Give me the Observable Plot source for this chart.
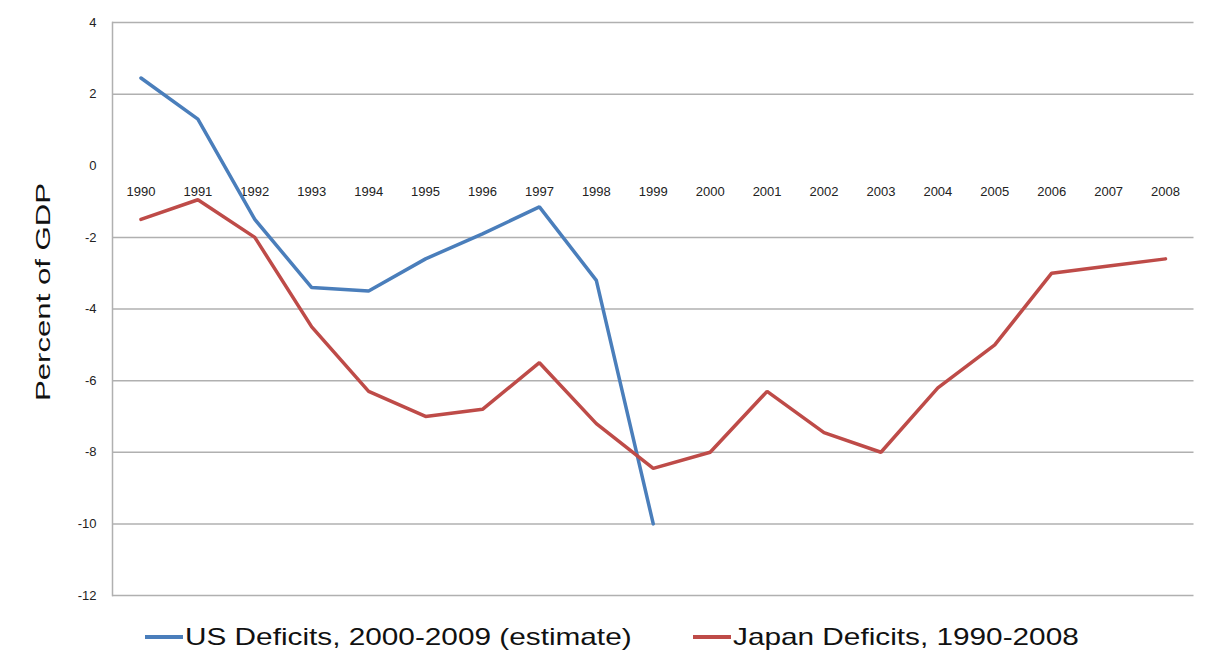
<!DOCTYPE html>
<html>
<head>
<meta charset="utf-8">
<script src="https://cdn.jsdelivr.net/npm/d3@7"></script>
<script src="https://cdn.jsdelivr.net/npm/@observablehq/plot@0.6"></script>
<style>
  html, body { margin: 0; padding: 0; background: #fff; }
  #wrap { position: relative; width: 1208px; height: 662px; font-family: "Liberation Sans", Arial, sans-serif; }
  .leg { position: absolute; top: 612px; height: 50px; display: flex; align-items: center; }
  .sw { width: 38px; height: 4px; margin-right: 2px; }
  .lt { font-size: 24px; color: #111; transform: scaleX(1.24); transform-origin: left center; white-space: nowrap; }
</style>
</head>
<body>
<div id="wrap"></div>
<script>
const years = ["1990","1991","1992","1993","1994","1995","1996","1997","1998","1999",
               "2000","2001","2002","2003","2004","2005","2006","2007","2008"];
// US deficits 2000-2009, drawn on the first ten category slots
const usValues = [2.45, 1.3, -1.5, -3.4, -3.5, -2.6, -1.9, -1.15, -3.2, -10.0];
// Japan deficits 1990-2008
const japanValues = [-1.5, -0.95, -2.0, -4.5, -6.3, -7.0, -6.8, -5.5, -7.2, -8.45,
                     -8.0, -6.3, -7.45, -8.0, -6.2, -5.0, -3.0, -2.8, -2.6];
const yTicks = [4, 2, 0, -2, -4, -6, -8, -10, -12];
const gridValues = [4, 2, -2, -4, -6, -8, -10, -12];
const seriesNames = ["US Deficits, 2000-2009 (estimate)", "Japan Deficits, 1990-2008"];
const colors = ["#4a7ebb", "#be4b48"];

const us = usValues.map((v, i) => ({year: years[i], value: v}));
const japan = japanValues.map((v, i) => ({year: years[i], value: v}));

const chart = Plot.plot({
  width: 1208,
  height: 612,
  marginLeft: 112,
  marginRight: 14.5,
  marginTop: 22,
  marginBottom: 17,
  style: {fontFamily: "'Liberation Sans', Arial, sans-serif", color: "#222", background: "#fff"},
  x: {type: "point", domain: years, padding: 0.5, round: false, axis: null},
  y: {domain: [-12, 4], axis: null},
  marks: [
    Plot.ruleY(gridValues, {stroke: "#b0b0b0", strokeWidth: 1.5}),
    Plot.frame({anchor: "left", stroke: "#b0b0b0", strokeWidth: 1.5}),
    Plot.axisY({ticks: yTicks, tickSize: 0, tickPadding: 16, tickFormat: d => String(d), fontSize: 13, label: null}),
    Plot.text(years, {x: d => d, y: () => 0, dy: 26, text: d => d, fontSize: 13, fill: "#222", textAnchor: "middle"}),
    Plot.line(us, {x: "year", y: "value", stroke: colors[0], strokeWidth: 3.5, strokeLinejoin: "miter"}),
    Plot.line(japan, {x: "year", y: "value", stroke: colors[1], strokeWidth: 3.5, strokeLinejoin: "miter"})
  ]
});

const wrap = document.getElementById("wrap");
wrap.appendChild(chart);

d3.select(chart).append("text")
  .attr("transform", "translate(50,292) rotate(-90)")
  .attr("text-anchor", "middle")
  .attr("font-size", 21)
  .attr("fill", "#111")
  .attr("textLength", 218)
  .attr("lengthAdjust", "spacingAndGlyphs")
  .text("Percent of GDP");

const legLeft = [145, 693];
seriesNames.forEach((name, i) => {
  const item = document.createElement("div");
  item.className = "leg";
  item.style.left = legLeft[i] + "px";
  const sw = document.createElement("div");
  sw.className = "sw";
  sw.style.background = colors[i];
  const t = document.createElement("span");
  t.className = "lt";
  t.textContent = name;
  item.appendChild(sw);
  item.appendChild(t);
  wrap.appendChild(item);
});
</script>
</body>
</html>
